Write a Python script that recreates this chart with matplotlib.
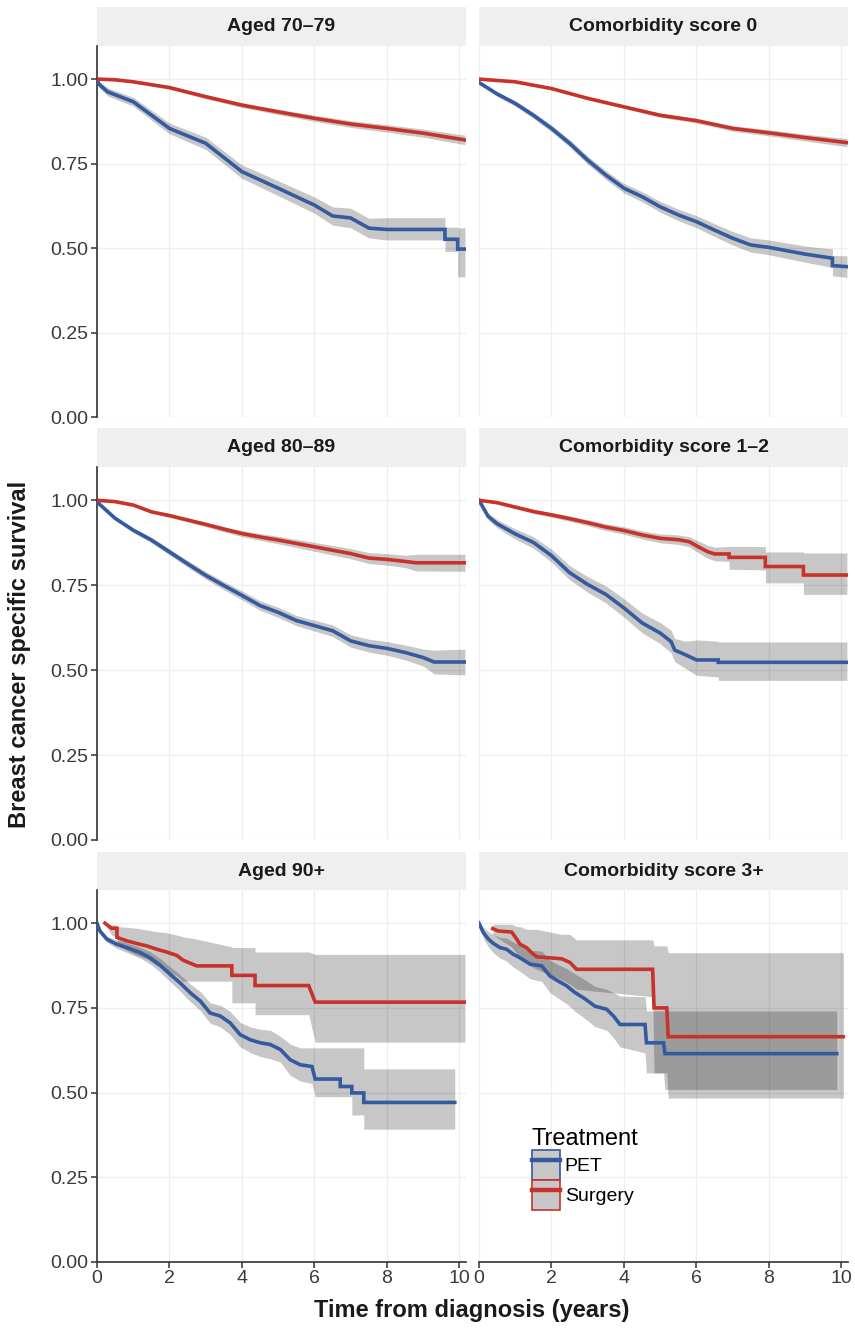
import matplotlib
matplotlib.use("Agg")
import matplotlib.pyplot as plt
from matplotlib.lines import Line2D
from matplotlib.patches import Patch

# Kaplan-Meier curves (vertices of the drawn lines and CI bands)
# Aged 70-79
a7_pet_t = [0, 0.05, 0.3, 1, 2, 3, 4, 5, 6, 6.5, 7, 7.5, 8, 9.6, 9.6, 9.95, 9.95, 10.15]
a7_pet_s = [1.0, 0.985, 0.962, 0.933, 0.854, 0.81, 0.726, 0.677, 0.627, 0.595, 0.589, 0.559, 0.555, 0.555, 0.526, 0.526, 0.497, 0.497]
a7_pet_lo = [1.0, 0.975, 0.950, 0.920, 0.838, 0.792, 0.706, 0.655, 0.603, 0.568, 0.560, 0.530, 0.524, 0.524, 0.490, 0.490, 0.415, 0.415]
a7_pet_hi = [1.0, 0.995, 0.974, 0.946, 0.870, 0.828, 0.746, 0.699, 0.651, 0.622, 0.618, 0.588, 0.590, 0.590, 0.562, 0.562, 0.560, 0.560]
a7_sur_t = [0, 0.5, 1, 2, 3, 4, 5, 6, 7, 8, 9, 10.15]
a7_sur_s = [1.0, 0.998, 0.992, 0.975, 0.948, 0.923, 0.903, 0.884, 0.867, 0.854, 0.84, 0.82]
a7_sur_lo = [1.0, 0.996, 0.989, 0.970, 0.942, 0.916, 0.895, 0.875, 0.857, 0.843, 0.828, 0.806]
a7_sur_hi = [1.0, 1.0, 0.995, 0.980, 0.954, 0.930, 0.911, 0.893, 0.877, 0.865, 0.852, 0.834]

# Comorbidity score 0
c0_pet_t = [0, 0.5, 1, 1.5, 2, 2.5, 3, 3.5, 4, 4.5, 5, 5.5, 6, 6.5, 7, 7.5, 8, 8.5, 9, 9.5, 9.75, 9.75, 10.15]
c0_pet_s = [0.99, 0.956, 0.928, 0.893, 0.854, 0.81, 0.76, 0.716, 0.677, 0.652, 0.622, 0.598, 0.578, 0.553, 0.529, 0.509, 0.502, 0.492, 0.482, 0.474, 0.47, 0.448, 0.445]
c0_pet_lo = [0.985, 0.949, 0.920, 0.884, 0.844, 0.799, 0.748, 0.703, 0.663, 0.637, 0.606, 0.581, 0.560, 0.534, 0.509, 0.488, 0.480, 0.469, 0.458, 0.448, 0.442, 0.418, 0.413]
c0_pet_hi = [0.995, 0.963, 0.936, 0.902, 0.864, 0.821, 0.772, 0.729, 0.691, 0.667, 0.638, 0.615, 0.596, 0.572, 0.549, 0.530, 0.524, 0.515, 0.506, 0.500, 0.498, 0.478, 0.477]
c0_sur_t = [0, 1, 2, 3, 4, 5, 6, 7, 8, 9, 10.15]
c0_sur_s = [1.0, 0.992, 0.972, 0.943, 0.918, 0.893, 0.877, 0.854, 0.841, 0.827, 0.812]
c0_sur_lo = [1.0, 0.990, 0.969, 0.939, 0.913, 0.887, 0.870, 0.846, 0.832, 0.817, 0.800]
c0_sur_hi = [1.0, 0.994, 0.975, 0.947, 0.923, 0.899, 0.884, 0.862, 0.850, 0.837, 0.824]

# Aged 80-89
a8_pet_t = [0, 0.25, 0.5, 1, 1.5, 2, 2.5, 3, 3.5, 4, 4.5, 5, 5.5, 6, 6.5, 7, 7.5, 8, 8.5, 9, 9.3, 10.15]
a8_pet_s = [0.995, 0.971, 0.947, 0.912, 0.883, 0.848, 0.813, 0.779, 0.749, 0.720, 0.690, 0.670, 0.646, 0.631, 0.616, 0.586, 0.572, 0.564, 0.552, 0.537, 0.524, 0.524]
a8_pet_lo = [0.991, 0.966, 0.941, 0.905, 0.875, 0.839, 0.803, 0.768, 0.737, 0.707, 0.676, 0.655, 0.631, 0.615, 0.599, 0.568, 0.553, 0.544, 0.530, 0.512, 0.489, 0.486]
a8_pet_hi = [0.999, 0.976, 0.953, 0.919, 0.891, 0.857, 0.823, 0.790, 0.761, 0.733, 0.704, 0.685, 0.661, 0.647, 0.633, 0.604, 0.591, 0.584, 0.574, 0.562, 0.559, 0.562]
a8_sur_t = [0, 0.5, 1, 1.5, 2, 2.5, 3, 3.5, 4, 4.5, 5, 5.5, 6, 6.5, 7, 7.5, 8, 8.5, 8.8, 10.15]
a8_sur_s = [1.0, 0.996, 0.986, 0.966, 0.955, 0.942, 0.929, 0.915, 0.902, 0.892, 0.883, 0.873, 0.863, 0.853, 0.843, 0.830, 0.826, 0.820, 0.816, 0.816]
a8_sur_lo = [1.0, 0.994, 0.983, 0.962, 0.950, 0.936, 0.922, 0.907, 0.893, 0.882, 0.872, 0.861, 0.850, 0.839, 0.828, 0.814, 0.809, 0.802, 0.792, 0.791]
a8_sur_hi = [1.0, 0.998, 0.989, 0.970, 0.960, 0.948, 0.936, 0.923, 0.911, 0.902, 0.894, 0.885, 0.876, 0.867, 0.858, 0.846, 0.843, 0.838, 0.841, 0.841]

# Comorbidity score 1-2
c1_pet_t = [0, 0.25, 0.5, 1, 1.5, 2, 2.5, 3, 3.5, 4, 4.5, 5, 5.3, 5.4, 5.7, 6, 6.6, 6.6, 10.15]
c1_pet_s = [1.0, 0.953, 0.931, 0.901, 0.876, 0.837, 0.787, 0.752, 0.723, 0.683, 0.639, 0.609, 0.584, 0.559, 0.545, 0.530, 0.530, 0.523, 0.523]
c1_pet_lo = [1.0, 0.943, 0.919, 0.886, 0.859, 0.818, 0.766, 0.729, 0.698, 0.656, 0.610, 0.578, 0.551, 0.525, 0.505, 0.485, 0.480, 0.470, 0.470]
c1_pet_hi = [1.0, 0.963, 0.943, 0.916, 0.893, 0.856, 0.808, 0.775, 0.748, 0.710, 0.668, 0.640, 0.617, 0.593, 0.585, 0.589, 0.585, 0.583, 0.583]
c1_sur_t = [0, 0.5, 1, 1.5, 2, 2.5, 3, 3.5, 4, 4.5, 5, 5.5, 5.8, 6.0, 6.3, 6.5, 6.9, 6.9, 7.9, 7.9, 8.95, 8.95, 10.15]
c1_sur_s = [1.0, 0.993, 0.980, 0.967, 0.957, 0.946, 0.934, 0.921, 0.911, 0.898, 0.888, 0.884, 0.878, 0.866, 0.849, 0.842, 0.842, 0.832, 0.832, 0.805, 0.805, 0.780, 0.780]
c1_sur_lo = [1.0, 0.989, 0.975, 0.961, 0.950, 0.938, 0.925, 0.911, 0.900, 0.886, 0.875, 0.870, 0.863, 0.849, 0.830, 0.822, 0.820, 0.797, 0.795, 0.757, 0.757, 0.723, 0.723]
c1_sur_hi = [1.0, 0.997, 0.985, 0.973, 0.964, 0.954, 0.943, 0.931, 0.922, 0.910, 0.901, 0.898, 0.893, 0.883, 0.868, 0.862, 0.864, 0.864, 0.864, 0.848, 0.848, 0.845, 0.845]

# Aged 90+
a9_pet_t = [0, 0.08, 0.27, 0.54, 0.82, 1.19, 1.46, 1.74, 2.02, 2.29, 2.57, 2.85, 3.12, 3.40, 3.67, 3.95, 4.23, 4.50, 4.78, 5.06, 5.33, 5.61, 5.93, 6.02, 6.71, 6.71, 7.03, 7.03, 7.36, 7.36, 9.87]
a9_pet_s = [1.0, 0.977, 0.953, 0.938, 0.928, 0.913, 0.898, 0.876, 0.849, 0.824, 0.795, 0.770, 0.735, 0.726, 0.706, 0.671, 0.656, 0.647, 0.642, 0.627, 0.597, 0.582, 0.577, 0.540, 0.540, 0.518, 0.518, 0.499, 0.499, 0.471, 0.471]
a9_pet_lo = [1.0, 0.970, 0.944, 0.926, 0.914, 0.897, 0.880, 0.856, 0.827, 0.800, 0.769, 0.742, 0.705, 0.694, 0.672, 0.635, 0.618, 0.607, 0.600, 0.590, 0.551, 0.534, 0.527, 0.488, 0.488, 0.488, 0.488, 0.434, 0.434, 0.392, 0.392]
a9_pet_hi = [1.0, 0.984, 0.962, 0.950, 0.942, 0.929, 0.916, 0.896, 0.871, 0.848, 0.821, 0.798, 0.765, 0.758, 0.740, 0.707, 0.694, 0.687, 0.684, 0.666, 0.643, 0.632, 0.632, 0.632, 0.632, 0.632, 0.632, 0.632, 0.632, 0.570, 0.570]
a9_sur_t = [0.22, 0.40, 0.55, 0.55, 0.82, 1.10, 1.37, 1.65, 1.92, 2.20, 2.37, 2.75, 3.72, 3.72, 4.36, 4.36, 5.84, 6.02, 10.15]
a9_sur_s = [1.0, 0.985, 0.985, 0.958, 0.948, 0.940, 0.933, 0.923, 0.915, 0.905, 0.891, 0.874, 0.874, 0.846, 0.846, 0.816, 0.816, 0.767, 0.767]
a9_sur_lo = [1.0, 0.965, 0.960, 0.935, 0.920, 0.905, 0.895, 0.875, 0.860, 0.845, 0.829, 0.829, 0.829, 0.765, 0.765, 0.730, 0.730, 0.649, 0.649]
a9_sur_hi = [1.0, 0.995, 0.995, 0.990, 0.988, 0.985, 0.980, 0.975, 0.972, 0.965, 0.960, 0.953, 0.930, 0.928, 0.928, 0.915, 0.915, 0.908, 0.908]

# Comorbidity score 3+
c3_pet_t = [0, 0.12, 0.26, 0.40, 0.58, 0.76, 0.95, 1.13, 1.41, 1.73, 1.96, 2.19, 2.42, 2.65, 2.88, 3.20, 3.52, 3.71, 3.89, 4.58, 4.62, 5.09, 5.13, 9.87]
c3_pet_s = [1.0, 0.972, 0.953, 0.940, 0.928, 0.923, 0.908, 0.898, 0.879, 0.874, 0.844, 0.829, 0.815, 0.795, 0.780, 0.755, 0.746, 0.726, 0.701, 0.701, 0.647, 0.647, 0.615, 0.615]
c3_pet_lo = [1.0, 0.955, 0.930, 0.912, 0.897, 0.888, 0.870, 0.858, 0.836, 0.828, 0.795, 0.778, 0.762, 0.740, 0.722, 0.695, 0.684, 0.662, 0.635, 0.617, 0.558, 0.558, 0.509, 0.509]
c3_pet_hi = [1.0, 0.988, 0.975, 0.966, 0.958, 0.956, 0.944, 0.936, 0.920, 0.918, 0.890, 0.877, 0.866, 0.850, 0.836, 0.813, 0.805, 0.795, 0.785, 0.783, 0.741, 0.741, 0.741, 0.741]
c3_sur_t = [0.38, 0.53, 0.90, 1.04, 1.13, 1.31, 1.45, 1.59, 2.28, 2.51, 2.69, 4.79, 4.83, 5.18, 5.22, 10.05]
c3_sur_s = [0.984, 0.977, 0.974, 0.953, 0.938, 0.928, 0.913, 0.901, 0.895, 0.884, 0.864, 0.864, 0.750, 0.750, 0.665, 0.665]
c3_sur_lo = [0.967, 0.955, 0.930, 0.910, 0.898, 0.885, 0.872, 0.864, 0.834, 0.820, 0.805, 0.783, 0.558, 0.558, 0.484, 0.484]
c3_sur_hi = [0.997, 0.997, 0.997, 0.990, 0.990, 0.982, 0.982, 0.982, 0.967, 0.967, 0.951, 0.951, 0.933, 0.933, 0.913, 0.913]

titles = ["Aged 70\u201379", "Comorbidity score 0", "Aged 80\u201389",
          "Comorbidity score 1\u20132", "Aged 90+", "Comorbidity score 3+"]
panels = [
    ((a7_pet_t, a7_pet_s, a7_pet_lo, a7_pet_hi), (a7_sur_t, a7_sur_s, a7_sur_lo, a7_sur_hi)),
    ((c0_pet_t, c0_pet_s, c0_pet_lo, c0_pet_hi), (c0_sur_t, c0_sur_s, c0_sur_lo, c0_sur_hi)),
    ((a8_pet_t, a8_pet_s, a8_pet_lo, a8_pet_hi), (a8_sur_t, a8_sur_s, a8_sur_lo, a8_sur_hi)),
    ((c1_pet_t, c1_pet_s, c1_pet_lo, c1_pet_hi), (c1_sur_t, c1_sur_s, c1_sur_lo, c1_sur_hi)),
    ((a9_pet_t, a9_pet_s, a9_pet_lo, a9_pet_hi), (a9_sur_t, a9_sur_s, a9_sur_lo, a9_sur_hi)),
    ((c3_pet_t, c3_pet_s, c3_pet_lo, c3_pet_hi), (c3_sur_t, c3_sur_s, c3_sur_lo, c3_sur_hi)),
]
groups = ["PET", "Surgery"]
colors = ["#345aa0", "#c8322a"]
xticks = [0, 2, 4, 6, 8, 10]
yticks = [0.0, 0.25, 0.5, 0.75, 1.0]
ytick_labels = ["0.00", "0.25", "0.50", "0.75", "1.00"]

plt.rcParams["font.family"] = ["Liberation Sans", "DejaVu Sans"]
W, H = 855, 1329
fig = plt.figure(figsize=(W / 100, H / 100), dpi=100)
fig.patch.set_facecolor("white")

def px_axes(x0, y0, x1, y1):
    return fig.add_axes([x0 / W, 1 - y1 / H, (x1 - x0) / W, (y1 - y0) / H])

cols = [(97, 466), (479, 848)]
rows = [(46, 417), (467, 840), (890, 1262)]
strips = [(7, 46), (428, 467), (852, 890)]

axes = []
for k in range(6):
    r, c = divmod(k, 2)
    x0, x1 = cols[c]
    # strip
    sa = px_axes(x0, strips[r][0], x1, strips[r][1])
    sa.set_facecolor("#efefef")
    sa.set_xticks([]); sa.set_yticks([])
    for sp in sa.spines.values():
        sp.set_visible(False)
    sa.text(0.5, 0.5, titles[k], ha="center", va="center", fontsize=14,
            fontweight="bold", color="#1a1a1a", transform=sa.transAxes)
    ax = px_axes(x0, rows[r][0], x1, rows[r][1])
    ax.set_xlim(0, 10.18); ax.set_ylim(0, 1.098)
    ax.set_xticks(xticks); ax.set_yticks(yticks)
    ax.grid(True, color="#eeeeee", lw=0.9)
    ax.set_axisbelow(True)
    for sp in ax.spines.values():
        sp.set_visible(False)
    for g, (t, s, lo, hi) in enumerate(panels[k]):
        ax.fill_between(t, lo, hi, color="black", alpha=0.22, lw=0, zorder=2)
    for g, (t, s, lo, hi) in enumerate(panels[k]):
        ax.plot(t, s, color=colors[g], lw=2.6, zorder=3, solid_joinstyle="miter")
    if c == 0:
        ax.spines["left"].set_visible(True)
        ax.spines["left"].set_color("#333333")
        ax.spines["left"].set_linewidth(1.2)
        ax.set_yticklabels(ytick_labels)
        ax.tick_params(axis="y", length=4, width=1.1, color="#333333",
                       labelsize=14, labelcolor="#3a3a3a", pad=2)
    else:
        ax.tick_params(axis="y", length=0, labelleft=False)
    if r == 2:
        ax.spines["bottom"].set_visible(True)
        ax.spines["bottom"].set_color("#333333")
        ax.spines["bottom"].set_linewidth(1.2)
        ax.tick_params(axis="x", length=4, width=1.1, color="#333333",
                       labelsize=14, labelcolor="#3a3a3a", pad=2)
    else:
        ax.tick_params(axis="x", length=0, labelbottom=False)
    axes.append(ax)

fig.text(20 / W, 1 - 654 / H, "Breast cancer specific survival", rotation=90,
         ha="center", va="center", fontsize=17, fontweight="bold", color="#1a1a1a")
fig.text(472 / W, 1 - 1310 / H, "Time from diagnosis (years)",
         ha="center", va="center", fontsize=17, fontweight="bold", color="#1a1a1a")

handles = []
for g in range(2):
    handles.append((Patch(facecolor="#c8c8c8", edgecolor=colors[g], lw=1.2),
                    Line2D([], [], color=colors[g], lw=3.2)))
leg = fig.legend(handles, groups, loc="upper left",
                 bbox_to_anchor=(524 / W, 1 - 1120 / H), frameon=False,
                 title="Treatment", fontsize=14, title_fontsize=17,
                 handlelength=1.45, handleheight=2.0, labelspacing=0.0,
                 handletextpad=0.25, alignment="left", borderaxespad=0)

fig.savefig("out.png", dpi=100)
